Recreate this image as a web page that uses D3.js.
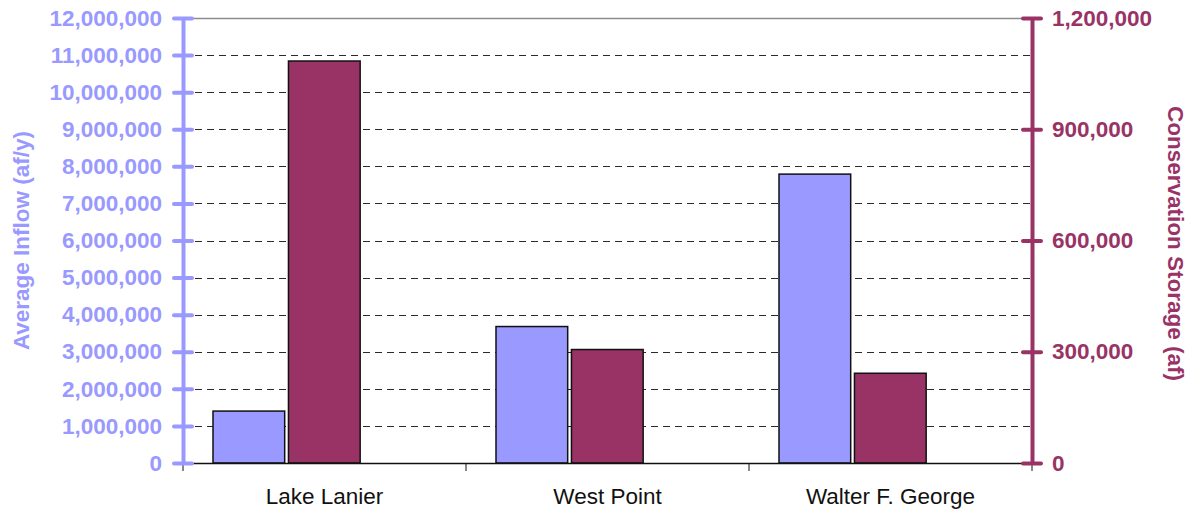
<!DOCTYPE html>
<html>
<head>
<meta charset="utf-8">
<script src="https://cdn.jsdelivr.net/npm/d3@7/dist/d3.min.js"></script>
<style>
  html, body { margin: 0; padding: 0; background: #fff; }
  svg { display: block; font-family: Arial, "Liberation Sans", sans-serif; }
</style>
</head>
<body>
<svg id="chart" width="1194" height="510"></svg>
<script>
// Reservoirs on the river system
const reservoirs = ["Lake Lanier", "West Point", "Walter F. George"];
// Average inflow, acre-feet per year (left axis)
const averageInflow = [1400000, 3680000, 7790000];
// Conservation storage, acre-feet (right axis)
const conservationStorage = [1084000, 306000, 242000];
// Axis ticks
const inflowTicks = [0, 1000000, 2000000, 3000000, 4000000, 5000000, 6000000,
                     7000000, 8000000, 9000000, 10000000, 11000000, 12000000];
const storageTicks = [0, 300000, 600000, 900000, 1200000];

const inflowColor = "#9999FF";
const storageColor = "#993366";
const labelSize = "22.5px";

const margin = { left: 183, right: 162, top: 18, bottom: 47 };
const W = 1194, H = 510;
const plotW = W - margin.left - margin.right;
const plotH = H - margin.top - margin.bottom;

const svg = d3.select("#chart");
const g = svg.append("g").attr("transform", `translate(${margin.left},${margin.top})`);

const x = d3.scaleBand().domain(reservoirs).range([0, plotW]).padding(0);
const yLeft = d3.scaleLinear().domain([0, 12000000]).range([plotH, 0]);
const yRight = d3.scaleLinear().domain([0, 1200000]).range([plotH, 0]);

// Two bars per reservoir, placed inside each category band
const sub = d3.scaleBand()
  .domain(["inflow", "storage"])
  .range([x.bandwidth() * 0.106, x.bandwidth() * 0.626])
  .paddingInner(0.05);

const fmt = d3.format(",");

// Horizontal gridlines
g.append("g").selectAll("line")
  .data(inflowTicks.filter(d => d > 0))
  .join("line")
  .attr("x1", 0).attr("x2", plotW)
  .attr("y1", d => Math.round(yLeft(d)) + 0.5)
  .attr("y2", d => Math.round(yLeft(d)) + 0.5)
  .attr("stroke", d => d === 12000000 ? "#8c8c8c" : "#2a2a2a")
  .attr("stroke-width", d => d === 12000000 ? 1.6 : 1)
  .attr("stroke-dasharray", d => d === 12000000 ? null : "7,5");

// Bars: average inflow
g.append("g").selectAll("rect")
  .data(reservoirs)
  .join("rect")
  .attr("x", (d) => x(d) + sub("inflow"))
  .attr("y", (d, i) => yLeft(averageInflow[i]))
  .attr("width", sub.bandwidth())
  .attr("height", (d, i) => plotH - yLeft(averageInflow[i]))
  .attr("fill", inflowColor)
  .attr("stroke", "#111")
  .attr("stroke-width", 1.5);

// Bars: conservation storage
g.append("g").selectAll("rect")
  .data(reservoirs)
  .join("rect")
  .attr("x", (d) => x(d) + sub("storage"))
  .attr("y", (d, i) => yRight(conservationStorage[i]))
  .attr("width", sub.bandwidth())
  .attr("height", (d, i) => plotH - yRight(conservationStorage[i]))
  .attr("fill", storageColor)
  .attr("stroke", "#111")
  .attr("stroke-width", 1.5);

// Category axis
const xAxis = g.append("g")
  .attr("transform", `translate(0,${plotH})`);
xAxis.append("line")
  .attr("x1", 0).attr("x2", plotW)
  .attr("y1", 0.5).attr("y2", 0.5)
  .attr("stroke", "#111").attr("stroke-width", 1.3);
const boundaries = reservoirs.map(d => x(d)).concat([plotW]);
xAxis.selectAll(".cat-tick")
  .data(boundaries)
  .join("line")
  .attr("class", "cat-tick")
  .attr("x1", d => d).attr("x2", d => d)
  .attr("y1", 0).attr("y2", 8)
  .attr("stroke", "#111").attr("stroke-width", 1);
xAxis.selectAll(".cat-label")
  .data(reservoirs)
  .join("text")
  .attr("class", "cat-label")
  .attr("x", d => x(d) + x.bandwidth() / 2)
  .attr("y", 41)
  .attr("text-anchor", "middle")
  .attr("font-size", labelSize)
  .attr("fill", "#111")
  .text(d => d);

// Left axis (average inflow)
const leftAxis = g.append("g")
  .call(d3.axisLeft(yLeft).tickValues(inflowTicks).tickFormat(fmt).tickSize(0).tickPadding(21));
leftAxis.select(".domain").attr("stroke", inflowColor).attr("stroke-width", 4);
leftAxis.selectAll(".tick").append("line")
  .attr("x1", -9).attr("x2", 9)
  .attr("stroke", inflowColor).attr("stroke-width", 4).attr("stroke-linecap", "round");
leftAxis.selectAll("text")
  .attr("fill", inflowColor).attr("font-size", labelSize).attr("font-weight", "bold")
  .attr("font-family", "Arial, 'Liberation Sans', sans-serif");

// Right axis (conservation storage)
const rightAxis = g.append("g")
  .attr("transform", `translate(${plotW},0)`)
  .call(d3.axisRight(yRight).tickValues(storageTicks).tickFormat(fmt).tickSize(0).tickPadding(20));
rightAxis.select(".domain").attr("stroke", storageColor).attr("stroke-width", 4);
rightAxis.selectAll(".tick").append("line")
  .attr("x1", -9).attr("x2", 9)
  .attr("stroke", storageColor).attr("stroke-width", 4).attr("stroke-linecap", "round");
rightAxis.selectAll("text")
  .attr("fill", storageColor).attr("font-size", labelSize).attr("font-weight", "bold")
  .attr("font-family", "Arial, 'Liberation Sans', sans-serif");

// Axis titles
svg.append("text")
  .attr("transform", `translate(29,${margin.top + plotH / 2}) rotate(-90)`)
  .attr("text-anchor", "middle")
  .attr("font-size", labelSize).attr("font-weight", "bold")
  .attr("fill", inflowColor)
  .text("Average Inflow (af/y)");

svg.append("text")
  .attr("transform", `translate(1168,${margin.top + plotH / 2 + 3}) rotate(90)`)
  .attr("text-anchor", "middle")
  .attr("font-size", labelSize).attr("font-weight", "bold")
  .attr("fill", storageColor)
  .text("Conservation Storage (af)");
</script>
</body>
</html>
